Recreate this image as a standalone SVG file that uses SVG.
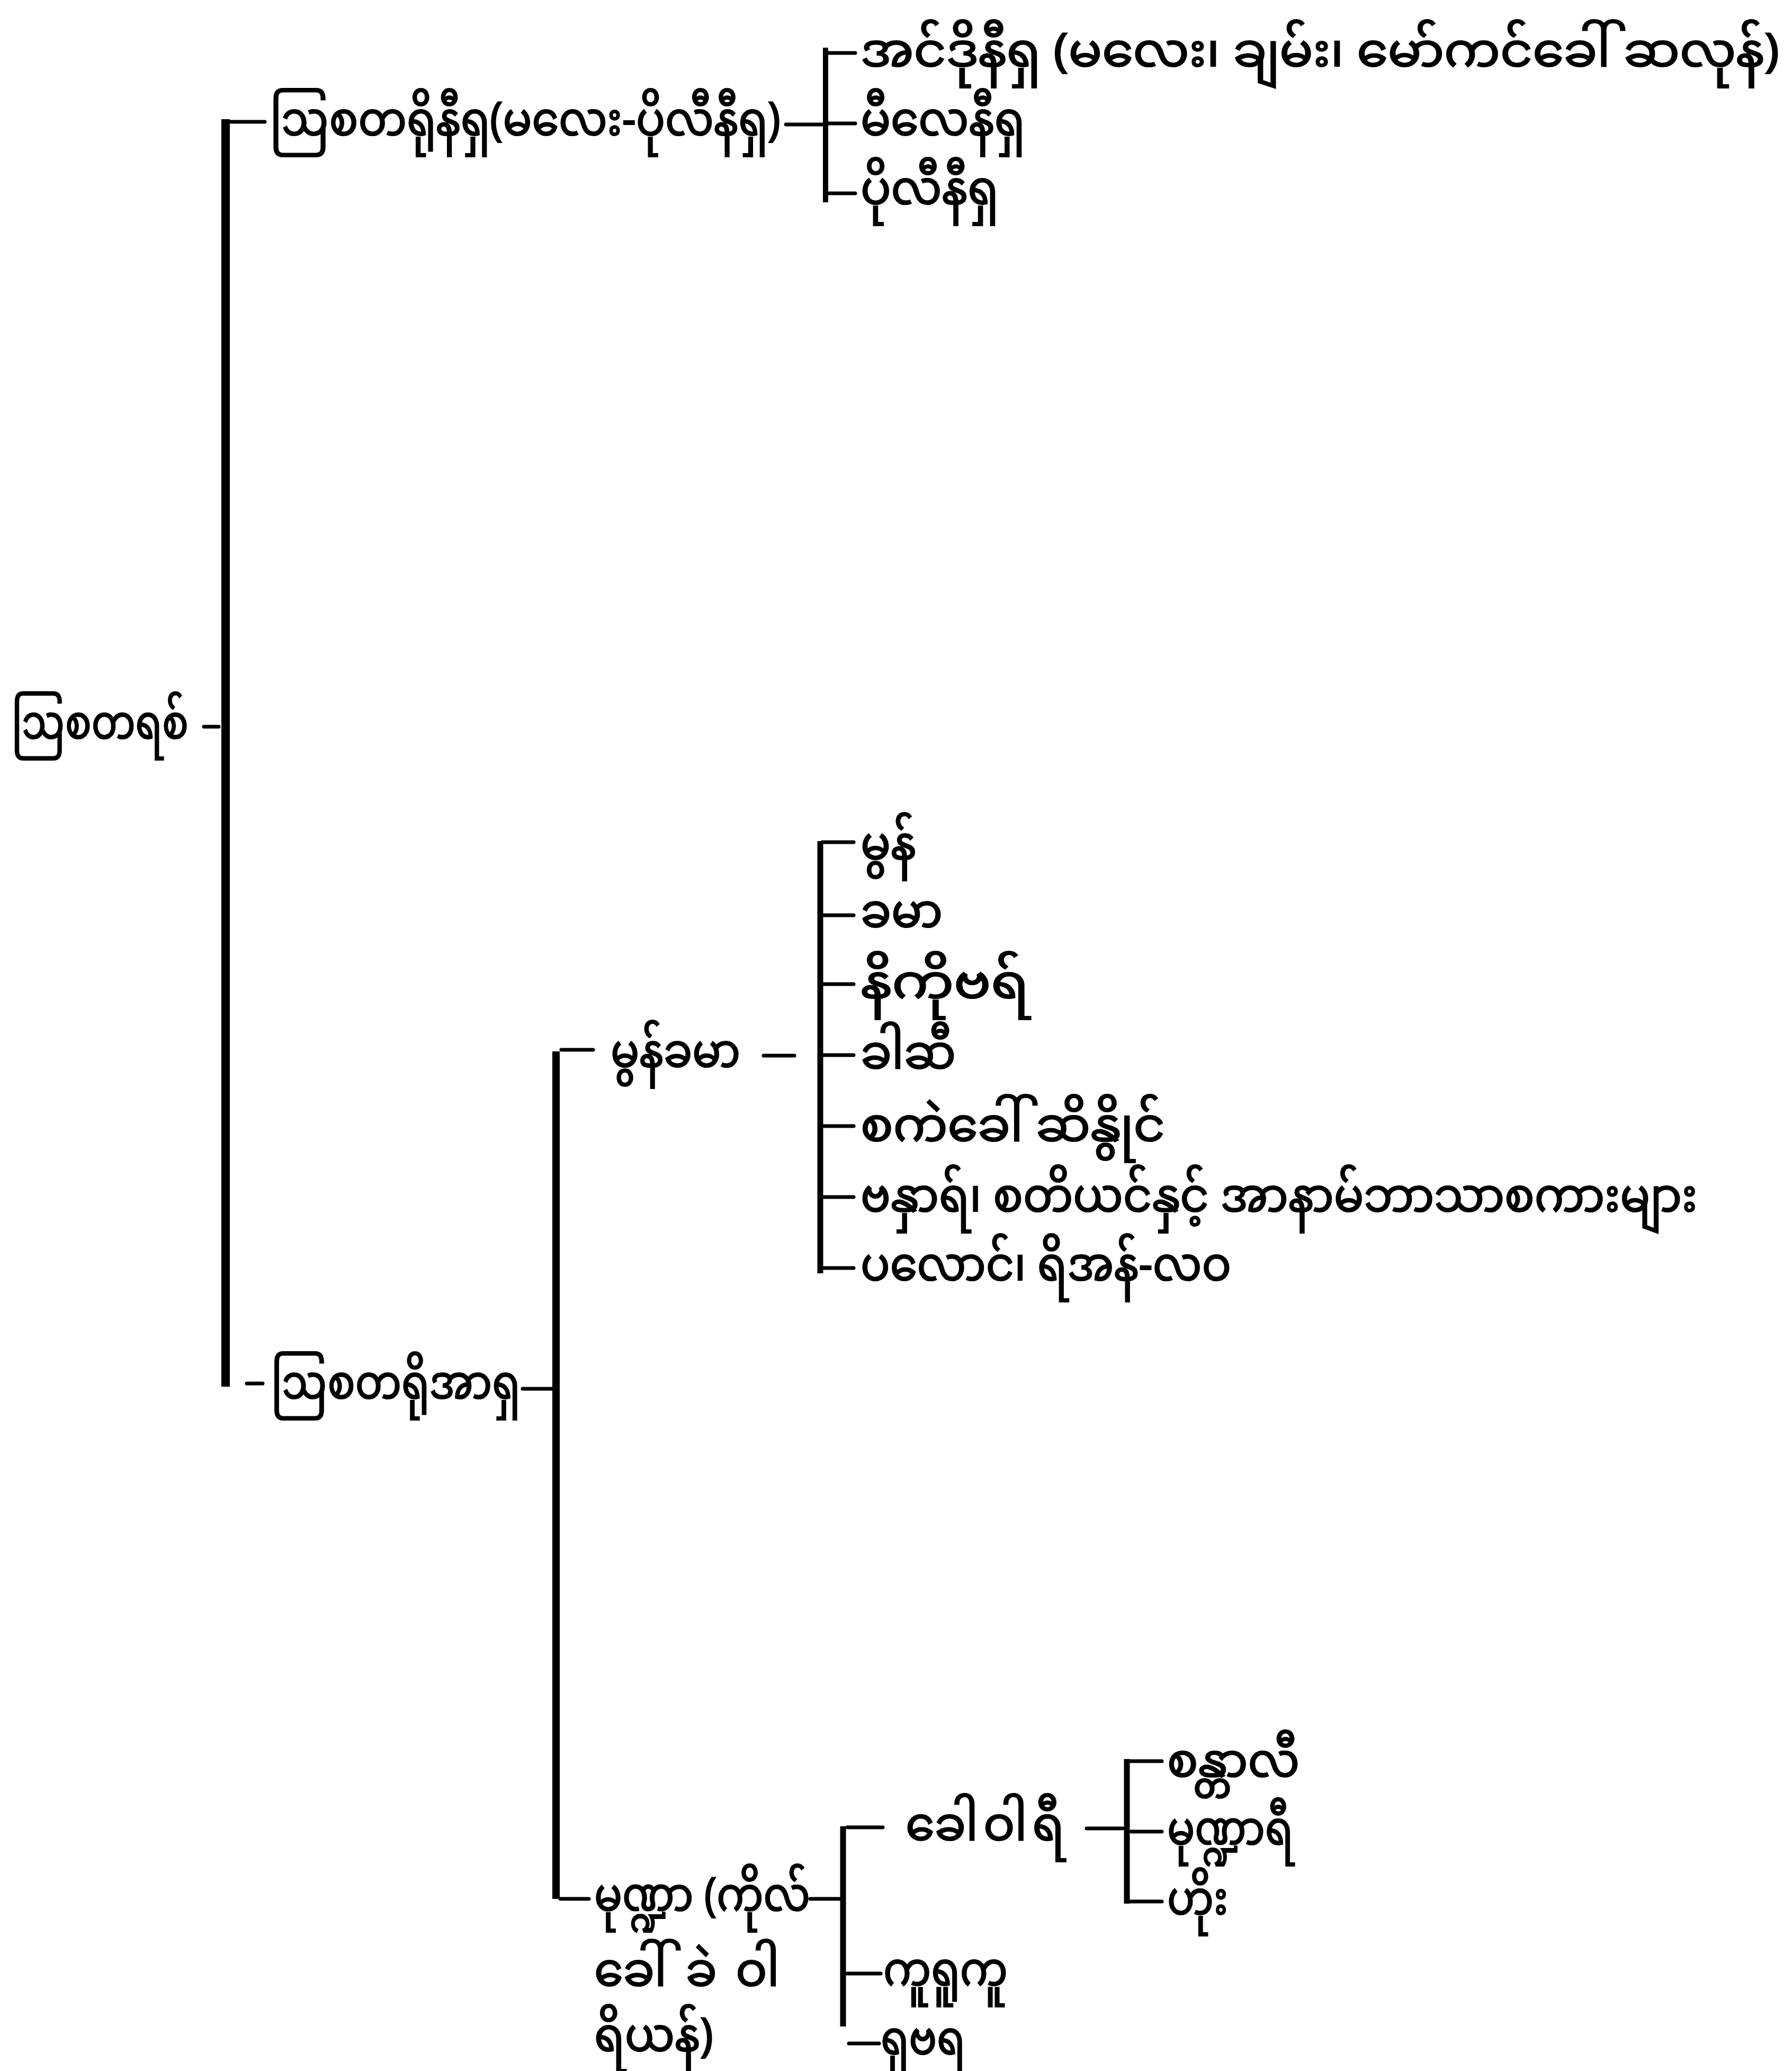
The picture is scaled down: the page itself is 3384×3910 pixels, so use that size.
<svg xmlns="http://www.w3.org/2000/svg" width="3384" height="3910" viewBox="0 0 3384 3910">
<style>
text { font-family: "Noto Sans Myanmar", "Padauk", "Myanmar Text", "Noto Serif Myanmar", "Noto Sans", sans-serif; font-size: 88px; fill: #000; stroke: #000; stroke-width: 2.2; }
.b { stroke: #000; fill: none; stroke-linecap: butt; }
.d { stroke: #000; fill: none; stroke-width: 7; stroke-linecap: round; }
</style>
<rect width="3384" height="3910" fill="#fff"/>
<g id="connectors">
  <line class="b" x1="426" y1="225" x2="426" y2="2618" stroke-width="16"/>
  <line class="d" x1="385" y1="1372" x2="413" y2="1372"/>
  <line class="d" x1="432" y1="230" x2="500" y2="230"/>
  <line class="d" x1="1484" y1="235" x2="1554" y2="235"/>
  <line class="b" x1="1559" y1="90" x2="1559" y2="382" stroke-width="10"/>
  <line class="d" x1="1562" y1="100" x2="1615" y2="100"/>
  <line class="d" x1="1562" y1="233" x2="1615" y2="233"/>
  <line class="d" x1="1562" y1="365" x2="1615" y2="365"/>
  <line class="d" x1="466" y1="2612" x2="496" y2="2612"/>
  <line class="d" x1="987" y1="2622" x2="1043" y2="2622"/>
  <line class="b" x1="1050" y1="1985" x2="1050" y2="3585" stroke-width="14"/>
  <line class="d" x1="1060" y1="1982" x2="1120" y2="1982"/>
  <line class="d" x1="1442" y1="1993" x2="1500" y2="1993"/>
  <line class="b" x1="1549" y1="1588" x2="1549" y2="2404" stroke-width="11"/>
  <line class="d" x1="1553" y1="1590" x2="1612" y2="1590"/>
  <line class="d" x1="1553" y1="1728" x2="1612" y2="1728"/>
  <line class="d" x1="1553" y1="1858" x2="1612" y2="1858"/>
  <line class="d" x1="1553" y1="1992" x2="1612" y2="1992"/>
  <line class="d" x1="1553" y1="2126" x2="1612" y2="2126"/>
  <line class="d" x1="1553" y1="2260" x2="1612" y2="2260"/>
  <line class="d" x1="1553" y1="2394" x2="1612" y2="2394"/>
  <line class="d" x1="1058" y1="3585" x2="1112" y2="3585"/>
  <line class="d" x1="1530" y1="3585" x2="1586" y2="3585"/>
  <line class="b" x1="1592" y1="3448" x2="1592" y2="3826" stroke-width="11"/>
  <line class="d" x1="1600" y1="3450" x2="1667" y2="3450"/>
  <line class="d" x1="2052" y1="3452" x2="2120" y2="3452"/>
  <line class="b" x1="2128" y1="3321" x2="2128" y2="3594" stroke-width="11"/>
  <line class="d" x1="2132" y1="3325" x2="2194" y2="3325"/>
  <line class="d" x1="2136" y1="3458" x2="2194" y2="3458"/>
  <line class="d" x1="2132" y1="3590" x2="2194" y2="3590"/>
  <line class="d" x1="1598" y1="3726" x2="1663" y2="3726"/>
  <line class="d" x1="1603" y1="3858" x2="1660" y2="3858"/>
</g>
<g id="n-root"><text x="22" y="1394" textLength="334" lengthAdjust="spacingAndGlyphs">ဩစတရစ်</text></g>
<g id="n-austronesian"><text x="510" y="255" textLength="964" lengthAdjust="spacingAndGlyphs">ဩစတရိုနီရှ(မလေး-ပိုလီနီရှ)</text></g>
<g id="n-indonesian"><text x="1625" y="125" textLength="1735" lengthAdjust="spacingAndGlyphs">အင်ဒိုနီရှ (မလေး၊ ချမ်း၊ မော်ကင်ခေါ် ဆလုန်)</text></g>
<g id="n-melanesian"><text x="1625" y="255" textLength="310" lengthAdjust="spacingAndGlyphs">မီလေနီရှ</text></g>
<g id="n-polynesian"><text x="1625" y="385" textLength="260" lengthAdjust="spacingAndGlyphs">ပိုလီနီရှ</text></g>
<g id="n-austroasiatic"><text x="512" y="2640" textLength="470" lengthAdjust="spacingAndGlyphs">ဩစတရိုအာရှ</text></g>
<g id="n-monkhmer"><text x="1153" y="2014" textLength="245" lengthAdjust="spacingAndGlyphs">မွန်ခမာ</text></g>
<g id="n-mon"><text x="1625" y="1622" textLength="105" lengthAdjust="spacingAndGlyphs">မွန်</text></g>
<g id="n-khmer"><text x="1625" y="1750" textLength="155" lengthAdjust="spacingAndGlyphs">ခမာ</text></g>
<g id="n-nicobar"><text x="1625" y="1884" textLength="318" lengthAdjust="spacingAndGlyphs">နိကိုဗရ်</text></g>
<g id="n-khasi"><text x="1625" y="2017" textLength="180" lengthAdjust="spacingAndGlyphs">ခါဆီ</text></g>
<g id="n-sakai"><text x="1625" y="2154" textLength="575" lengthAdjust="spacingAndGlyphs">စကဲခေါ် ဆိနွိုင်</text></g>
<g id="n-bahnar"><text x="1625" y="2287" textLength="1580" lengthAdjust="spacingAndGlyphs">ဗနှာရ်၊ စတိယင်နှင့် အာနာမ်ဘာသာစကားများ</text></g>
<g id="n-palaung"><text x="1625" y="2417" textLength="700" lengthAdjust="spacingAndGlyphs">ပလောင်၊ ရိအန်-လဝ</text></g>
<g id="n-munda">
  <text x="1122" y="3607" textLength="408" lengthAdjust="spacingAndGlyphs">မုဏ္ဍာ (ကိုလ်</text>
  <text x="1122" y="3749" textLength="350" lengthAdjust="spacing">ခေါ်ခဲဝါ</text>
  <text x="1122" y="3872" textLength="225" lengthAdjust="spacingAndGlyphs">ရိယန်)</text>
</g>
<g id="n-kherwari"><text x="1710" y="3474" textLength="300" lengthAdjust="spacing">ခေါဝါရီ</text></g>
<g id="n-santali"><text x="2204" y="3354" textLength="250" lengthAdjust="spacingAndGlyphs">စန္တာလီ</text></g>
<g id="n-mundari"><text x="2204" y="3482" textLength="238" lengthAdjust="spacingAndGlyphs">မုဏ္ဍာရီ</text></g>
<g id="n-ho"><text x="2204" y="3614" textLength="115" lengthAdjust="spacingAndGlyphs">ဟိုး</text></g>
<g id="n-korku"><text x="1668" y="3748" textLength="235" lengthAdjust="spacingAndGlyphs">ကူရူကူ</text></g>
<g id="n-savara"><text x="1663" y="3878" textLength="160" lengthAdjust="spacingAndGlyphs">ရှဗရ</text></g>
</svg>
